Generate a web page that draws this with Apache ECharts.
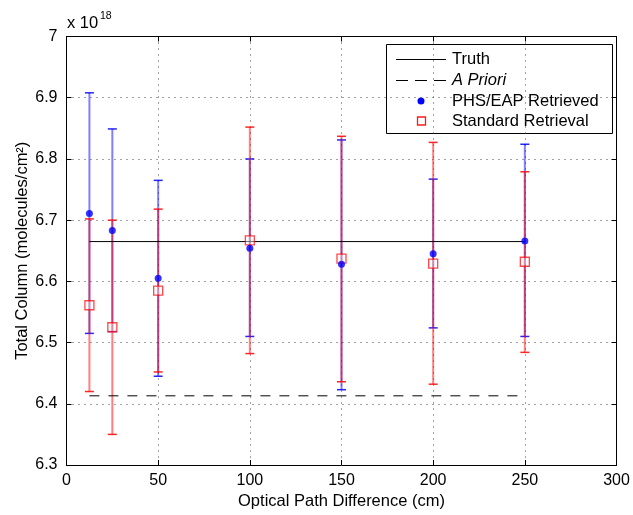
<!DOCTYPE html>
<html>
<head>
<meta charset="utf-8">
<script src="https://cdn.jsdelivr.net/npm/echarts@6/dist/echarts.min.js"></script>
<style>
html,body{margin:0;padding:0;background:#fff;}
#chart{width:633px;height:515px;}
</style>
</head>
<body>
<div id="chart"></div>
<script>
// ---- data (values in units of 1e18 molecules/cm^2) ----
const xValues  = [12.5, 25, 50, 100, 150, 200, 250];
const phsValue = [6.711, 6.683, 6.605, 6.654, 6.628, 6.645, 6.666];
const phsLow   = [6.515, 6.518, 6.445, 6.510, 6.423, 6.524, 6.510];
const phsHigh  = [6.908, 6.849, 6.765, 6.800, 6.831, 6.767, 6.824];
const stdValue = [6.561, 6.525, 6.585, 6.667, 6.637, 6.629, 6.632];
const stdLow   = [6.420, 6.350, 6.452, 6.482, 6.436, 6.432, 6.484];
const stdHigh  = [6.702, 6.700, 6.718, 6.852, 6.837, 6.827, 6.779];
const truthX   = [12.5, 250];
const truthY   = [6.665, 6.665];
const aprioriX = [12.5, 250];
const aprioriY = [6.413, 6.413];
const legendNames = ['Truth', 'A Priori', 'PHS/EAP Retrieved', 'Standard Retrieval'];
const xTitle = 'Optical Path Difference (cm)';
const yTitle = 'Total Column (molecules/cm²)';

const FONT = "'Liberation Sans', Arial, Helvetica, sans-serif";

const chart = echarts.init(document.getElementById('chart'), null, {renderer: 'canvas'});

function errBar(lineColor, capColor) {
  return function (params, api) {
    const x = api.value(0);
    const lo = api.coord([x, api.value(1)]);
    const hi = api.coord([x, api.value(2)]);
    const w = 4.5;
    return {
      type: 'group',
      children: [
        {type: 'line', shape: {x1: lo[0], y1: lo[1], x2: hi[0], y2: hi[1]}, style: {stroke: lineColor, lineWidth: 2}},
        {type: 'line', shape: {x1: lo[0] - w, y1: lo[1], x2: lo[0] + w, y2: lo[1]}, style: {stroke: capColor, lineWidth: 1.5}},
        {type: 'line', shape: {x1: hi[0] - w, y1: hi[1], x2: hi[0] + w, y2: hi[1]}, style: {stroke: capColor, lineWidth: 1.5}}
      ]
    };
  };
}

const gridLine = {show: true, lineStyle: {color: '#444', width: 1, type: [1, 5]}};
const axisText = {color: '#000', fontSize: 16, fontFamily: FONT};

const option = {
  animation: false,
  backgroundColor: '#fff',
  grid: {left: 66.5, right: 16.5, top: 36.5, bottom: 44, containLabel: false},
  xAxis: [
    {
      type: 'value', min: 0, max: 300, interval: 50, position: 'bottom',
      name: xTitle, nameLocation: 'middle', nameGap: 28, nameMoveOverlap: false,
      nameTextStyle: {color: '#000', fontSize: 16.5, fontFamily: FONT},
      axisLine: {show: true, onZero: false, lineStyle: {color: '#000', width: 1}},
      axisTick: {show: true, inside: true, length: 5, lineStyle: {color: '#000'}},
      axisLabel: Object.assign({margin: 8}, axisText),
      splitLine: gridLine
    },
    {
      type: 'value', min: 0, max: 300, interval: 50, position: 'top',
      axisLine: {show: true, onZero: false, lineStyle: {color: '#000', width: 1}},
      axisTick: {show: true, inside: true, length: 5, lineStyle: {color: '#000'}},
      axisLabel: {show: false}, splitLine: {show: false}
    }
  ],
  yAxis: [
    {
      type: 'value', min: 6.3, max: 7, interval: 0.1, position: 'left',
      name: yTitle, nameLocation: 'middle', nameGap: 36, nameRotate: 90, nameMoveOverlap: false,
      nameTextStyle: {color: '#000', fontSize: 16.5, fontFamily: FONT},
      axisLine: {show: true, onZero: false, lineStyle: {color: '#000', width: 1}},
      axisTick: {show: true, inside: true, length: 5, lineStyle: {color: '#000'}},
      axisLabel: Object.assign({margin: 9, formatter: v => String(Math.round(v * 10) / 10)}, axisText),
      splitLine: gridLine
    },
    {
      type: 'value', min: 6.3, max: 7, interval: 0.1, position: 'right',
      axisLine: {show: true, onZero: false, lineStyle: {color: '#000', width: 1}},
      axisTick: {show: true, inside: true, length: 5, lineStyle: {color: '#000'}},
      axisLabel: {show: false}, splitLine: {show: false}
    }
  ],
  series: [
    {
      name: 'PHS/EAP error', type: 'custom', z: 3,
      renderItem: errBar('rgba(0,0,255,0.5)', 'rgba(0,0,255,0.85)'),
      data: xValues.map((x, i) => [x, phsLow[i], phsHigh[i]])
    },
    {
      name: 'Standard error', type: 'custom', z: 3,
      renderItem: errBar('rgba(255,0,0,0.5)', 'rgba(255,0,0,0.85)'),
      data: xValues.map((x, i) => [x, stdLow[i], stdHigh[i]])
    },
    {
      name: legendNames[0], type: 'line', symbol: 'none', z: 4,
      lineStyle: {color: '#000', width: 1},
      data: truthX.map((x, i) => [x, truthY[i]])
    },
    {
      name: legendNames[1], type: 'line', symbol: 'none', z: 4,
      lineStyle: {color: '#000', width: 1, type: [10, 9]},
      data: aprioriX.map((x, i) => [x, aprioriY[i]])
    },
    {
      name: legendNames[3], type: 'scatter', symbol: 'rect', symbolSize: 9, z: 5,
      itemStyle: {color: 'rgba(255,255,255,0.5)', borderColor: 'rgba(255,0,0,0.9)', borderWidth: 1.3},
      data: xValues.map((x, i) => [x, stdValue[i]])
    },
    {
      name: legendNames[2], type: 'scatter', symbol: 'circle', symbolSize: 7, z: 6,
      itemStyle: {color: '#0000ff'},
      data: xValues.map((x, i) => [x, phsValue[i]])
    }
  ],
  graphic: [
    {
      type: 'group', z: 100,
      children: [
        {type: 'rect', shape: {x: 386.5, y: 44.5, width: 226, height: 89}, style: {fill: '#fff', stroke: '#000', lineWidth: 1}},
        {type: 'line', shape: {x1: 396, y1: 59.5, x2: 446, y2: 59.5}, style: {stroke: '#000', lineWidth: 1}},
        {type: 'line', shape: {x1: 396, y1: 80.5, x2: 446, y2: 80.5}, style: {stroke: '#000', lineWidth: 1, lineDash: [12, 7]}},
        {type: 'circle', shape: {cx: 421, cy: 101, r: 3.5}, style: {fill: '#0000ff'}},
        {type: 'rect', shape: {x: 417.5, y: 117, width: 8, height: 8}, style: {fill: '#fff', stroke: 'rgba(255,0,0,0.9)', lineWidth: 1.3}},
        {type: 'text', style: {x: 452, y: 59.5, text: legendNames[0], fontSize: 16.5, fontFamily: FONT, fill: '#000', verticalAlign: 'middle'}},
        {type: 'text', style: {x: 452, y: 80.5, text: legendNames[1], fontSize: 16.5, fontStyle: 'italic', fontFamily: FONT, fill: '#000', verticalAlign: 'middle'}},
        {type: 'text', style: {x: 452, y: 101, text: legendNames[2], fontSize: 16.5, fontFamily: FONT, fill: '#000', verticalAlign: 'middle'}},
        {type: 'text', style: {x: 452, y: 121.5, text: legendNames[3], fontSize: 16.5, fontFamily: FONT, fill: '#000', verticalAlign: 'middle'}}
      ]
    },
    {type: 'text', z: 100, style: {x: 67, y: 23.5, text: 'x 10', fontSize: 16.5, fontFamily: FONT, fill: '#000', verticalAlign: 'middle'}},
    {type: 'text', z: 100, style: {x: 100, y: 16.5, text: '18', fontSize: 10.5, fontFamily: FONT, fill: '#000', verticalAlign: 'middle'}}
  ]
};

chart.setOption(option);
</script>
</body>
</html>
